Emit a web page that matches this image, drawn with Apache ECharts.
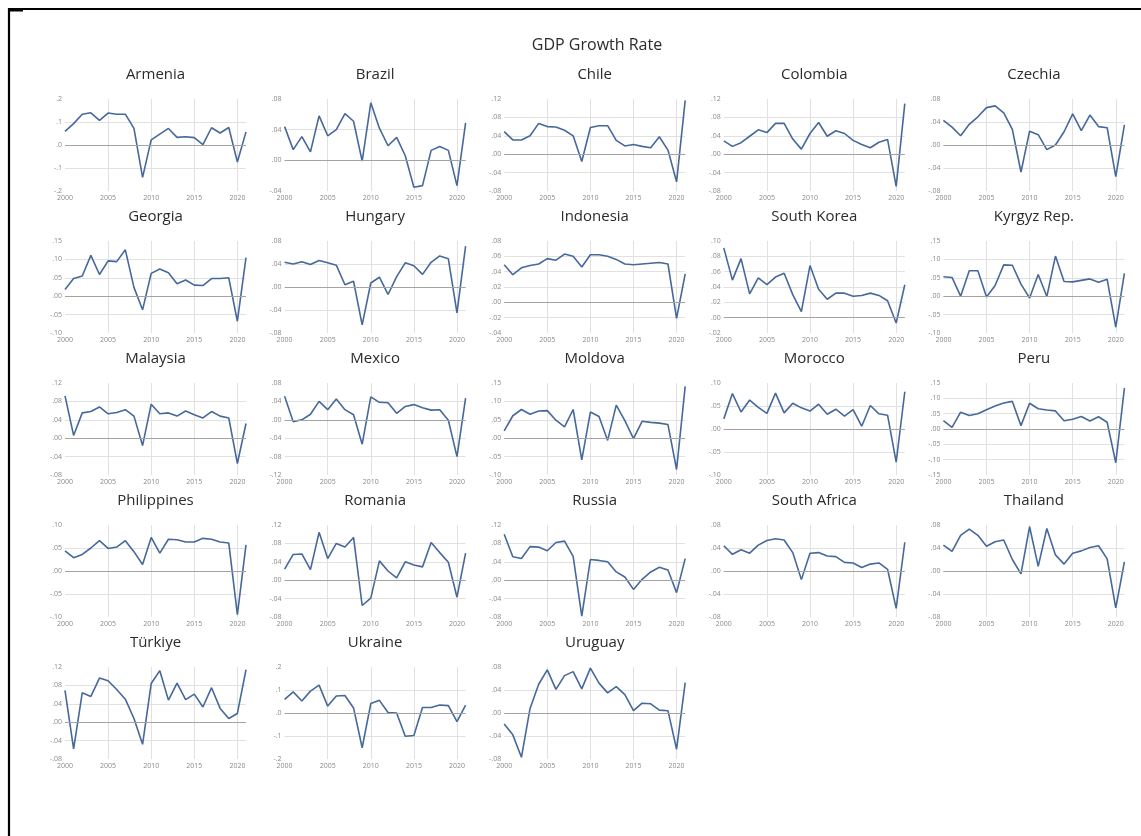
<!DOCTYPE html>
<html>
<head>
<meta charset="utf-8">
<title>GDP Growth Rate</title>
<script src="https://cdn.jsdelivr.net/npm/echarts@6/dist/echarts.min.js"></script>
<style>
  html, body { margin: 0; padding: 0; background: #ffffff; }
  #chart { width: 1141px; height: 836px; }
</style>
</head>
<body>
<div id="chart"></div>
<script>
// Annual real GDP growth, 2000–2021 (fractions, e.g. 0.05 = 5%)
const years = [2000, 2001, 2002, 2003, 2004, 2005, 2006, 2007, 2008, 2009, 2010,
               2011, 2012, 2013, 2014, 2015, 2016, 2017, 2018, 2019, 2020, 2021];

const countries = ['Armenia', 'Brazil', 'Chile', 'Colombia', 'Czechia',
                   'Georgia', 'Hungary', 'Indonesia', 'South Korea', 'Kyrgyz Rep.',
                   'Malaysia', 'Mexico', 'Moldova', 'Morocco', 'Peru',
                   'Philippines', 'Romania', 'Russia', 'South Africa', 'Thailand',
                   'Türkiye', 'Ukraine', 'Uruguay'];

const armenia     = [0.059, 0.093, 0.134, 0.140, 0.107, 0.139, 0.134, 0.134, 0.072, -0.141, 0.022, 0.047, 0.072, 0.033, 0.036, 0.032, 0.002, 0.075, 0.052, 0.076, -0.074, 0.057];
const brazil      = [0.044, 0.014, 0.031, 0.011, 0.058, 0.032, 0.040, 0.061, 0.051, -0.001, 0.075, 0.042, 0.019, 0.030, 0.006, -0.035, -0.033, 0.013, 0.018, 0.013, -0.033, 0.049];
const chile       = [0.049, 0.031, 0.031, 0.040, 0.067, 0.060, 0.059, 0.052, 0.040, -0.016, 0.058, 0.062, 0.062, 0.030, 0.018, 0.021, 0.017, 0.014, 0.038, 0.009, -0.060, 0.117];
const colombia    = [0.029, 0.017, 0.025, 0.039, 0.053, 0.047, 0.067, 0.067, 0.033, 0.011, 0.045, 0.069, 0.039, 0.051, 0.045, 0.030, 0.021, 0.014, 0.026, 0.032, -0.070, 0.110];
const czechia     = [0.043, 0.031, 0.016, 0.036, 0.049, 0.065, 0.068, 0.056, 0.027, -0.047, 0.024, 0.018, -0.008, 0.000, 0.023, 0.054, 0.025, 0.052, 0.032, 0.030, -0.055, 0.035];
const georgia     = [0.018, 0.048, 0.055, 0.111, 0.059, 0.096, 0.094, 0.126, 0.024, -0.037, 0.062, 0.074, 0.064, 0.034, 0.044, 0.030, 0.029, 0.048, 0.048, 0.050, -0.068, 0.105];
const hungary     = [0.043, 0.040, 0.044, 0.039, 0.046, 0.042, 0.038, 0.004, 0.010, -0.066, 0.007, 0.017, -0.013, 0.018, 0.042, 0.037, 0.022, 0.043, 0.054, 0.049, -0.045, 0.071];
const indonesia   = [0.049, 0.036, 0.045, 0.048, 0.050, 0.057, 0.055, 0.063, 0.060, 0.046, 0.062, 0.062, 0.060, 0.056, 0.050, 0.049, 0.050, 0.051, 0.052, 0.050, -0.021, 0.037];
const southKorea  = [0.091, 0.049, 0.077, 0.031, 0.052, 0.043, 0.053, 0.058, 0.030, 0.008, 0.068, 0.037, 0.024, 0.032, 0.032, 0.028, 0.029, 0.032, 0.029, 0.022, -0.007, 0.043];
const kyrgyz      = [0.053, 0.051, 0.000, 0.069, 0.069, -0.002, 0.029, 0.085, 0.084, 0.033, -0.005, 0.059, -0.001, 0.109, 0.040, 0.039, 0.043, 0.047, 0.038, 0.046, -0.084, 0.062];
const malaysia    = [0.092, 0.006, 0.055, 0.058, 0.068, 0.053, 0.056, 0.062, 0.048, -0.016, 0.074, 0.053, 0.055, 0.048, 0.059, 0.051, 0.044, 0.058, 0.048, 0.044, -0.055, 0.032];
const mexico      = [0.051, -0.004, 0.000, 0.012, 0.040, 0.022, 0.045, 0.022, 0.011, -0.053, 0.050, 0.038, 0.037, 0.014, 0.029, 0.033, 0.026, 0.021, 0.022, -0.001, -0.080, 0.047];
const moldova     = [0.020, 0.061, 0.078, 0.065, 0.074, 0.075, 0.049, 0.031, 0.078, -0.059, 0.071, 0.059, -0.006, 0.090, 0.048, -0.001, 0.046, 0.043, 0.041, 0.037, -0.085, 0.141];
const morocco     = [0.022, 0.077, 0.037, 0.063, 0.047, 0.034, 0.078, 0.035, 0.056, 0.046, 0.039, 0.054, 0.032, 0.043, 0.028, 0.042, 0.006, 0.051, 0.033, 0.030, -0.072, 0.081];
const peru        = [0.027, 0.005, 0.055, 0.044, 0.050, 0.063, 0.075, 0.085, 0.090, 0.011, 0.084, 0.066, 0.062, 0.059, 0.027, 0.032, 0.041, 0.026, 0.040, 0.022, -0.110, 0.133];
const philippines = [0.044, 0.029, 0.036, 0.050, 0.066, 0.049, 0.052, 0.066, 0.042, 0.014, 0.073, 0.039, 0.069, 0.068, 0.063, 0.063, 0.071, 0.069, 0.063, 0.061, -0.095, 0.057];
const romania     = [0.024, 0.056, 0.057, 0.023, 0.104, 0.047, 0.080, 0.072, 0.093, -0.055, -0.039, 0.042, 0.020, 0.005, 0.040, 0.033, 0.029, 0.082, 0.060, 0.039, -0.037, 0.059];
const russia      = [0.100, 0.051, 0.047, 0.073, 0.072, 0.064, 0.082, 0.085, 0.052, -0.078, 0.045, 0.043, 0.040, 0.018, 0.007, -0.020, 0.002, 0.018, 0.028, 0.022, -0.027, 0.047];
const southAfrica = [0.044, 0.029, 0.037, 0.031, 0.045, 0.053, 0.056, 0.054, 0.032, -0.015, 0.031, 0.032, 0.026, 0.025, 0.015, 0.014, 0.006, 0.012, 0.014, 0.003, -0.065, 0.050];
const thailand    = [0.045, 0.034, 0.062, 0.073, 0.062, 0.043, 0.051, 0.054, 0.020, -0.005, 0.077, 0.008, 0.074, 0.028, 0.012, 0.031, 0.035, 0.041, 0.044, 0.021, -0.064, 0.016];
const turkiye     = [0.069, -0.058, 0.064, 0.056, 0.096, 0.090, 0.071, 0.050, 0.008, -0.048, 0.084, 0.112, 0.048, 0.085, 0.049, 0.061, 0.033, 0.075, 0.030, 0.008, 0.019, 0.114];
const ukraine     = [0.059, 0.092, 0.052, 0.095, 0.121, 0.030, 0.074, 0.076, 0.022, -0.151, 0.041, 0.055, 0.002, 0.000, -0.101, -0.098, 0.024, 0.024, 0.035, 0.032, -0.038, 0.034];
const uruguay     = [-0.019, -0.038, -0.077, 0.008, 0.050, 0.075, 0.041, 0.065, 0.072, 0.042, 0.078, 0.052, 0.035, 0.046, 0.032, 0.004, 0.017, 0.016, 0.005, 0.004, -0.063, 0.053];

const seriesValues = [armenia, brazil, chile, colombia, czechia,
                      georgia, hungary, indonesia, southKorea, kyrgyz,
                      malaysia, mexico, moldova, morocco, peru,
                      philippines, romania, russia, southAfrica, thailand,
                      turkiye, ukraine, uruguay];

// Vertical scale of each panel: lower bound, upper bound, step, decimals shown
const yMins  = [-0.2, -0.04, -0.08, -0.08, -0.08,  -0.10, -0.08, -0.04, -0.02, -0.10,  -0.08, -0.12, -0.10, -0.10, -0.15,  -0.10, -0.08, -0.08, -0.08, -0.08,  -0.08, -0.2, -0.08];
const yMaxs  = [ 0.2,  0.08,  0.12,  0.12,  0.08,   0.15,  0.08,  0.08,  0.10,  0.15,   0.12,  0.08,  0.15,  0.10,  0.15,   0.10,  0.12,  0.12,  0.08,  0.08,   0.12,  0.2,  0.08];
const ySteps = [ 0.1,  0.04,  0.04,  0.04,  0.04,   0.05,  0.04,  0.02,  0.02,  0.05,   0.04,  0.04,  0.05,  0.05,  0.05,   0.05,  0.04,  0.04,  0.04,  0.04,   0.04,  0.1,  0.04];
const yDecimals = [1, 2, 2, 2, 2,  2, 2, 2, 2, 2,  2, 2, 2, 2, 2,  2, 2, 2, 2, 2,  2, 1, 2];

const mainTitle = 'GDP Growth Rate';

// Panel layout
const COLS = 5;
const PANEL_LEFT0 = 65, PANEL_DX = 219.6;
const PANEL_TOP0 = 99, PANEL_DY = 142;
const PANEL_W = 181, PANEL_H = 92;
const LINE_COLOR = '#46689a';
const LABEL_FONT = 'Open Sans, "Noto Sans", sans-serif';

function fmtTick(v, dec) {
  const s = Math.abs(v).toFixed(dec).replace(/^0/, '');
  return (v < -1e-9 ? '-' : '') + s;
}

const grids = [], xAxes = [], yAxes = [], series = [], graphics = [];

countries.forEach((name, i) => {
  const c = i % COLS, r = Math.floor(i / COLS);
  const left = PANEL_LEFT0 + c * PANEL_DX;
  const top = PANEL_TOP0 + r * PANEL_DY;
  grids.push({ left: left, top: top, width: PANEL_W, height: PANEL_H, containLabel: false });

  xAxes.push({
    type: 'value', gridIndex: i, min: 2000, max: 2021, interval: 5,
    axisLine: { show: false }, axisTick: { show: false },
    splitLine: { show: true, showMinLine: false, showMaxLine: false,
                 lineStyle: { color: '#e1e1e1', width: 1 } },
    axisLabel: { show: true, fontSize: 7, color: '#8a8a8a', margin: 3,
                 fontFamily: LABEL_FONT, showMaxLabel: false,
                 formatter: v => String(v) }
  });

  const dec = yDecimals[i];
  yAxes.push({
    type: 'value', gridIndex: i, min: yMins[i], max: yMaxs[i], interval: ySteps[i],
    axisLine: { show: false }, axisTick: { show: false },
    splitLine: { show: true, showMinLine: false, showMaxLine: false,
                 lineStyle: { color: '#e1e1e1', width: 1 } },
    axisLabel: { show: true, fontSize: 7, color: '#8a8a8a', margin: 3,
                 fontFamily: LABEL_FONT, formatter: v => fmtTick(v, dec) }
  });

  series.push({
    type: 'line', name: name, xAxisIndex: i, yAxisIndex: i,
    data: years.map((y, k) => [y, seriesValues[i][k]]),
    showSymbol: false, symbol: 'none', silent: true, animation: false,
    lineStyle: { color: LINE_COLOR, width: 1.6 },
    markLine: {
      silent: true, symbol: 'none', animation: false,
      label: { show: false },
      lineStyle: { color: '#a3a3a3', width: 1.2, type: 'solid' },
      data: [{ yAxis: 0 }]
    },
    z: 3
  });

  graphics.push({
    type: 'text', x: left + PANEL_W / 2, y: top - 24,
    style: { text: name, align: 'center', verticalAlign: 'middle',
             fontSize: 15, fontFamily: 'Open Sans, "Noto Sans", sans-serif', fill: '#2b2b2b' }
  });
});

graphics.push({
  type: 'text', x: 597, y: 45,
  style: { text: mainTitle, align: 'center', verticalAlign: 'middle',
           fontSize: 16, fontFamily: 'Open Sans, "Noto Sans", sans-serif', fill: '#2b2b2b' }
});

// Frame along the top and left edges
graphics.push({
  type: 'polyline',
  shape: { points: [[9, 836], [9, 9], [1141, 9]] },
  style: { stroke: '#000000', lineWidth: 2.2, fill: null }
});
graphics.push({
  type: 'line',
  shape: { x1: 8, y1: 10.5, x2: 23, y2: 10.5 },
  style: { stroke: '#000000', lineWidth: 2 }
});

const chart = echarts.init(document.getElementById('chart'), null, { renderer: 'canvas' });
chart.setOption({
  backgroundColor: '#ffffff',
  animation: false,
  grid: grids,
  xAxis: xAxes,
  yAxis: yAxes,
  series: series,
  graphic: graphics
});
</script>
</body>
</html>
